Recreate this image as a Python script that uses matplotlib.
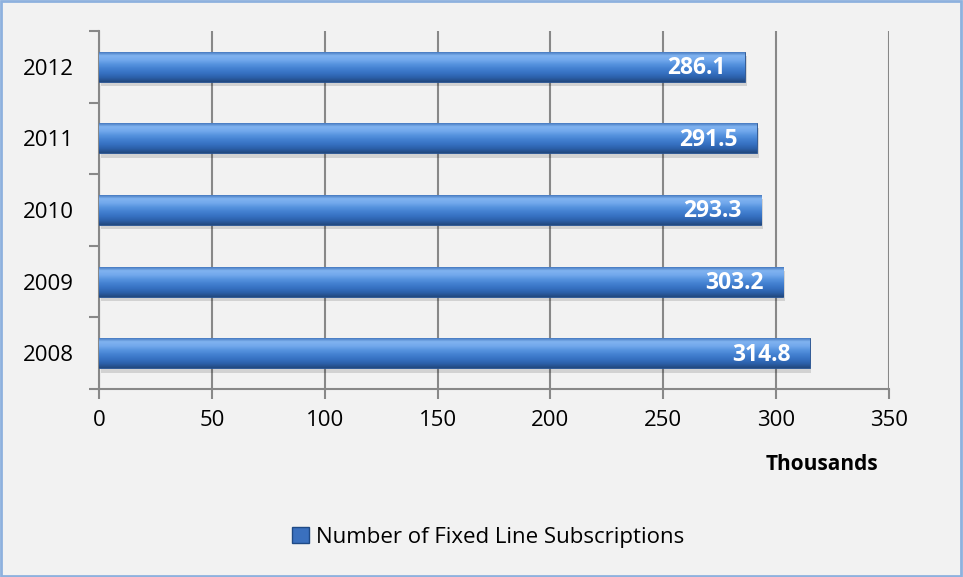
import numpy as np
import matplotlib.pyplot as plt
from matplotlib.patches import Rectangle, Patch
from matplotlib.colors import LinearSegmentedColormap

years = ["2008", "2009", "2010", "2011", "2012"]
subscriptions = [314.8, 303.2, 293.3, 291.5, 286.1]  # thousands
series_name = "Number of Fixed Line Subscriptions"

plt.rcParams['font.family'] = ['Open Sans', 'DejaVu Sans']

bg = "#F2F2F2"
grid_col = "#888888"

fig = plt.figure(figsize=(9.63, 5.77), dpi=100, facecolor=bg)
ax = fig.add_axes([99 / 963, 1 - 389 / 577, 790 / 963, 358 / 577])
ax.set_facecolor(bg)

pos = np.arange(len(years))
bar_h = 0.42

# glossy blue shading, light near the top and darker at the bottom edge
glossy = LinearSegmentedColormap.from_list(
    "glossy", ["#22497F", "#2C60AA", "#3671C2", "#4380D0", "#5592DE",
               "#72A8EC", "#80B3F0", "#3A6CB4"])
grad = np.linspace(0, 1, 64).reshape(-1, 1)

bars = ax.barh(pos, subscriptions, height=bar_h, color="#3D74C4",
               edgecolor="#25508E", linewidth=0.6, zorder=3)
for bar, val in zip(bars, subscriptions):
    x0, y0 = bar.get_x(), bar.get_y()
    w, h = bar.get_width(), bar.get_height()
    # soft drop shadow
    ax.add_patch(Rectangle((x0 + 0.8, y0 - 0.06), w, h, facecolor="#000000",
                           alpha=0.13, edgecolor="none", zorder=2))
    im = ax.imshow(grad, cmap=glossy, aspect="auto", origin="lower",
                   extent=(x0, x0 + w, y0, y0 + h), zorder=3.5)
    im.set_clip_path(bar)
    ax.text(x0 + w - 8.5, y0 + h / 2 - 0.02, f"{val:.1f}", ha="right",
            va="center", color="white", fontsize=16.5, fontweight="bold",
            zorder=5)

ax.set_xlim(0, 350)
ax.set_ylim(-0.5, len(years) - 0.5)
ax.set_xticks(np.arange(0, 351, 50))
ax.tick_params(axis="x", length=7, width=1.5, color=grid_col, labelsize=16,
               pad=8)
ax.set_yticks(np.arange(-0.5, len(years), 1))
ax.set_yticklabels([])
ax.tick_params(axis="y", which="major", length=7, width=1.5, color=grid_col)
ax.set_yticks(pos, minor=True)
ax.set_yticklabels(years, minor=True)
ax.tick_params(axis="y", which="minor", length=0, labelsize=16, pad=18)

ax.grid(axis="x", color=grid_col, linewidth=1.5, zorder=0)
ax.set_axisbelow(True)
for side in ["top", "right"]:
    ax.spines[side].set_visible(False)
for side in ["left", "bottom"]:
    ax.spines[side].set_color(grid_col)
    ax.spines[side].set_linewidth(1.5)

fig.text(822 / 963, 1 - 465 / 577, "Thousands", ha="center", va="center",
         fontsize=15, fontweight="bold")

handle = Patch(facecolor="#3A70BE", edgecolor="#1F4A86", linewidth=1)
fig.legend([handle], [series_name], loc="center",
           bbox_to_anchor=(488 / 963, 1 - 537 / 577), frameon=False,
           fontsize=16, handlelength=0.75, handleheight=0.75, handletextpad=0.3)

# light blue outer border
fig.add_artist(Rectangle((0.001, 0.002), 0.997, 0.996, transform=fig.transFigure,
                         fill=False, edgecolor="#8EB1DE", linewidth=2))

fig.savefig("out.png", dpi=100, facecolor=bg)
